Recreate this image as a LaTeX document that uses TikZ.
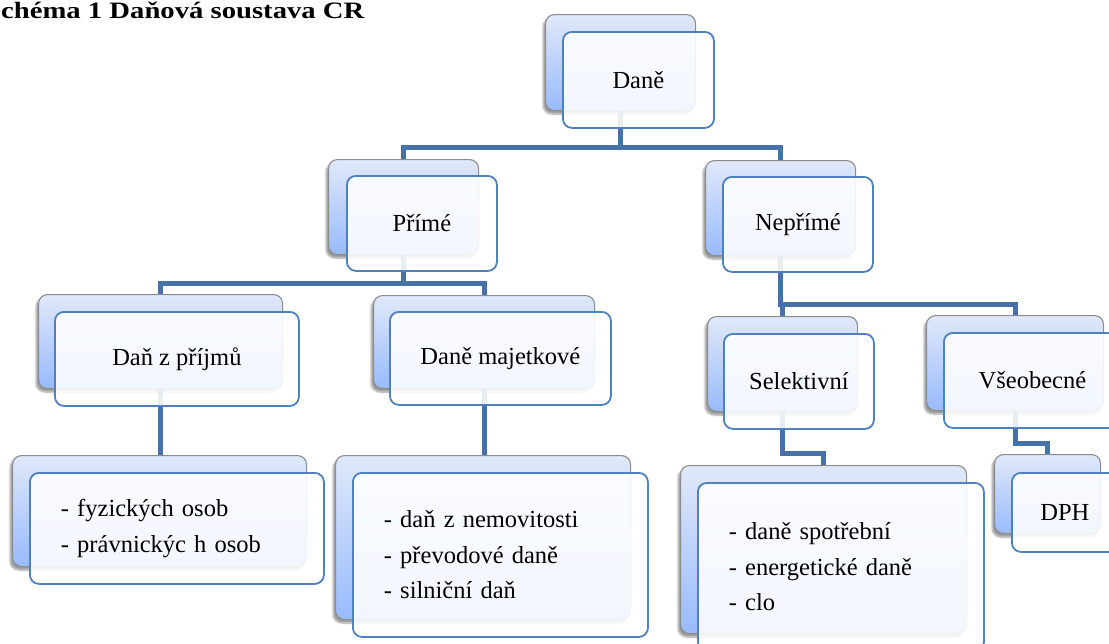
\documentclass[tikz,border=0pt]{standalone}
\usepackage{fontspec}
\setmainfont{Liberation Serif}
\usetikzlibrary{shadows.blur}
\definecolor{connblue}{RGB}{70,114,168}
\definecolor{frontblue}{RGB}{79,129,189}
\definecolor{backtop}{RGB}{224,233,250}
\definecolor{backbot}{RGB}{152,186,252}
\definecolor{backedge}{RGB}{140,140,140}
\begin{document}
\begin{tikzpicture}[x=1pt,y=-1pt,
  backbox/.style={rectangle, rounded corners=9pt, draw=backedge, line width=1.1pt,
    top color=backtop, bottom color=backbot, anchor=north west, inner sep=0pt,
    blur shadow={shadow xshift=-2.5pt, shadow yshift=-3.5pt, shadow opacity=40, shadow blur steps=6}},
  frontbox/.style={rectangle, rounded corners=9pt, draw=frontblue, line width=1.8pt,
    fill=white, fill opacity=0.88, text opacity=1, anchor=north west, inner sep=0pt,
    font=\fontsize{24.5}{35.5}\selectfont},
  listbox/.style={frontbox, align=left, inner xsep=31pt},
  conn/.style={draw=connblue, line width=5pt},
]
\useasboundingbox (0,0) rectangle (1109,643);

% title
\node[anchor=base west, inner sep=0pt, font=\bfseries\fontsize{23.5}{26}\selectfont] (title) at (1,18)
  {\scalebox{1.22}[1]{chéma 1 Daňová soustava CR}};

% back boxes
\node[backbox, minimum width=150pt, minimum height=96pt] (daneB) at (545,14) {};
\node[backbox, minimum width=150pt, minimum height=95pt] (primeB) at (328,159) {};
\node[backbox, minimum width=150pt, minimum height=95pt] (neprimeB) at (705,160) {};
\node[backbox, minimum width=244pt, minimum height=94pt] (prijmuB) at (38,294) {};
\node[backbox, minimum width=221pt, minimum height=93pt] (majetB) at (373,295) {};
\node[backbox, minimum width=150pt, minimum height=95pt] (selekB) at (707,316) {};
\node[backbox, minimum width=177pt, minimum height=95pt] (vseobB) at (926,315) {};
\node[backbox, minimum width=294pt, minimum height=111pt] (fyzB) at (12,455) {};
\node[backbox, minimum width=295pt, minimum height=164pt] (nemovB) at (335,455) {};
\node[backbox, minimum width=286pt, minimum height=168pt] (spotrB) at (680,465) {};
\node[backbox, minimum width=106pt, minimum height=79pt] (dphB) at (994,454) {};

% connectors
\draw[conn] (daneB.south) -- ++(0,36) -| (primeB.north);
\draw[conn] (daneB.south) -- ++(0,36) -| (neprimeB.north);
\draw[conn] (primeB.south) -- ++(0,28) -| (prijmuB.north);
\draw[conn] (primeB.south) -- ++(0,28) -| (majetB.north);
\draw[conn] (neprimeB.south) -- ++(0,48) -| (selekB.north);
\draw[conn] (neprimeB.south) -- ++(0,48) -| (vseobB.north);
\draw[conn] (prijmuB.south) -- (prijmuB.south |- fyzB.north);
\draw[conn] (majetB.south) -- (majetB.south |- nemovB.north);
\draw[conn] (selekB.south) -- ++(0,41) -| (spotrB.north);
\draw[conn] (vseobB.south) -- ++(0,32) -| (dphB.north);

% front boxes
\node[frontbox, minimum width=151pt, minimum height=96pt] (dane) at (562,31) {Daně};
\node[frontbox, minimum width=150pt, minimum height=95pt] (prime) at (346,175) {Přímé};
\node[frontbox, minimum width=150pt, minimum height=95pt] (neprime) at (722,176) {Nepřímé};
\node[frontbox, minimum width=244pt, minimum height=94pt] (prijmu) at (54,311) {Daň z příjmů};
\node[frontbox, minimum width=221pt, minimum height=93pt] (majet) at (389,311) {Daně majetkové};
\node[frontbox, minimum width=150pt, minimum height=95pt] (selek) at (723,333) {Selektivní};
\node[frontbox, minimum width=177pt, minimum height=95pt] (vseob) at (943,332) {Všeobecné};
\node[frontbox, minimum width=112pt, minimum height=79pt, inner xsep=0pt] (dph) at (1011,472) {\hspace*{-6pt}DPH};
\node[listbox, text width=232pt, minimum height=111pt] (fyz) at (29,472)
  {- fyzických osob\\- právnickýc h osob};
\node[listbox, text width=233pt, minimum height=164pt] (nemov) at (352,472)
  {- daň z nemovitosti\\- převodové daně\\- silniční daň};
\node[listbox, text width=224pt, minimum height=168pt] (spotr) at (697,482)
  {- daně spotřební\\- energetické daně\\- clo};
\end{tikzpicture}
\end{document}
